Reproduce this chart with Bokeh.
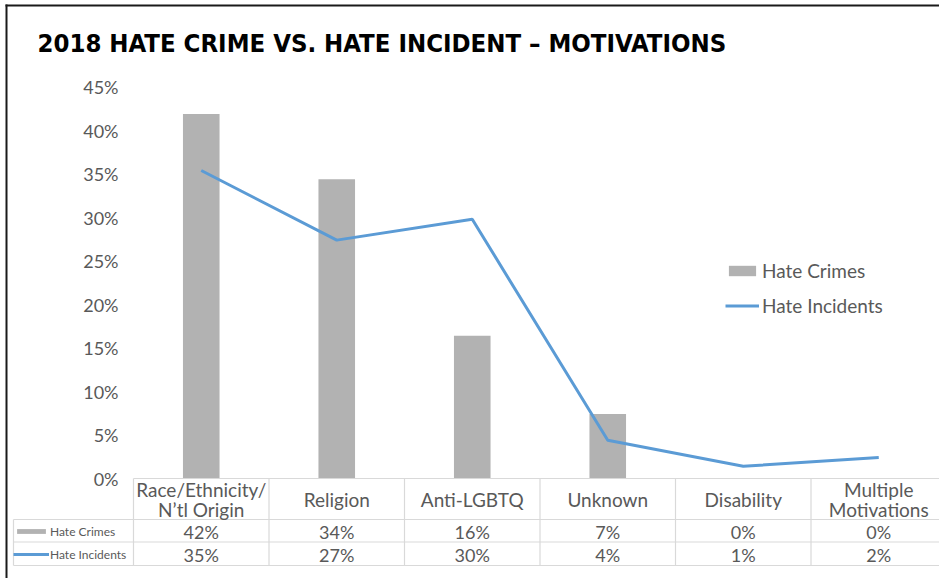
from bokeh.plotting import figure
from bokeh.models import (Range1d, LinearAxis, FixedTicker, PrintfTickFormatter, Label,
                          Legend, LegendItem, ColumnDataSource)
from bokeh.core.properties import value
from bokeh.embed import file_html
from bokeh.resources import INLINE

# ---------------- data ----------------
categories = ["Race/Ethnicity/\nN\u2019tl Origin", "Religion", "Anti-LGBTQ", "Unknown",
              "Disability", "Multiple\nMotivations"]
hate_crimes = [41.9, 34.4, 16.4, 7.4, 0.0, 0.0]
hate_incidents = [35.4, 27.4, 29.8, 4.4, 1.4, 2.4]
y_ticks = [0, 5, 10, 15, 20, 25, 30, 35, 40, 45]
crime_labels = ["42%", "34%", "16%", "7%", "0%", "0%"]
incident_labels = ["35%", "27%", "30%", "4%", "1%", "2%"]
title_text = "2018 HATE CRIME VS. HATE INCIDENT \u2013 MOTIVATIONS"

# ---------------- layout helpers (pixel -> data) ----------------
W, H = 939, 578
X0, COLW = 133.0, 135.5
Y0, YS = 478.0, 8.7


def xd(px):
    return (px - X0) / COLW


def yd(py):
    return (Y0 - py) / YS


FONT = "Lato"
GREY_TXT = "#595959"
GRID = "#d9d9d9"
BAR = "#b2b2b2"
BLUE = "#5b9bd5"

p = figure(width=W, height=H, x_range=Range1d(xd(0), xd(W)), y_range=Range1d(yd(H), yd(0)),
           output_backend="svg", toolbar_location=None, x_axis_location=None,
           y_axis_location=None, min_border=0, outline_line_color=None,
           background_fill_color="white", border_fill_color="white")
p.grid.visible = False

xs = [i + 0.5 for i in range(len(categories))]
src = ColumnDataSource(dict(x=xs, crimes=hate_crimes, incidents=hate_incidents))

bars = p.vbar(x="x", top="crimes", bottom=0, width=0.27, source=src,
              fill_color=BAR, line_color=None)
line = p.line(x="x", y="incidents", source=src, line_color=BLUE, line_width=3)

# y axis drawn at the start of the first column
yaxis = LinearAxis(fixed_location=0, ticker=FixedTicker(ticks=y_ticks),
                   formatter=PrintfTickFormatter(format="%d%%"),
                   axis_line_color=None, major_tick_line_color=None,
                   minor_tick_line_color=None, major_label_text_font=FONT,
                   major_label_text_font_size="18px", major_label_text_color=GREY_TXT,
                   major_label_standoff=9)
p.add_layout(yaxis, "left")

# ---------------- data table under the chart ----------------
n = len(categories)
x_right = xd(W + 20)
row_tops = [yd(519), yd(541.5), yd(565)]
# horizontal lines
p.segment(x0=[0], y0=[0], x1=[x_right], y1=[0], line_color=GRID, line_width=1.2)
p.segment(x0=[xd(13)] * 3, y0=row_tops, x1=[x_right] * 3, y1=row_tops,
          line_color=GRID, line_width=1.2)
# vertical lines
p.segment(x0=list(range(n + 1)), y0=[0] * (n + 1), x1=list(range(n + 1)),
          y1=[yd(565)] * (n + 1), line_color=GRID, line_width=1.2)
p.segment(x0=[xd(13)], y0=[yd(519)], x1=[xd(13)], y1=[yd(565)], line_color=GRID, line_width=1.2)

p.text(x=xs, y=[yd(499)] * n, text=categories, text_align="center", text_baseline="middle",
       text_font=value(FONT), text_font_size="19px", text_color=GREY_TXT, text_line_height=0.84)
p.text(x=xs, y=[yd(531)] * n, text=crime_labels, text_align="center", text_baseline="middle",
       text_font=value(FONT), text_font_size="18px", text_color=GREY_TXT)
p.text(x=xs, y=[yd(554)] * n, text=incident_labels, text_align="center", text_baseline="middle",
       text_font=value(FONT), text_font_size="18px", text_color=GREY_TXT)

# ---------------- legends ----------------
leg = Legend(items=[LegendItem(label="Hate Crimes", renderers=[bars]),
                    LegendItem(label="Hate Incidents", renderers=[line])],
             location=(725, H - 317), orientation="vertical", padding=0, margin=0,
             spacing=11, glyph_width=34, glyph_height=13, label_height=24,
             label_standoff=3, label_text_font=FONT, label_text_font_size="19px",
             label_text_color=GREY_TXT, border_line_color=None, background_fill_alpha=0)
p.add_layout(leg, "center")

leg2 = Legend(items=[LegendItem(label="Hate Crimes", renderers=[bars]),
                     LegendItem(label="Hate Incidents", renderers=[line])],
              location=(13, H - 562), orientation="vertical", padding=0, margin=0,
              spacing=7, glyph_width=36, glyph_height=6, label_height=16,
              label_standoff=1, label_text_font=FONT, label_text_font_size="12px",
              label_text_color=GREY_TXT, border_line_color=None, background_fill_alpha=0)
p.add_layout(leg2, "center")

# ---------------- title and frame border ----------------
p.add_layout(Label(x=xd(37), y=yd(42), text=title_text,
                   text_font="'DejaVu Sans Condensed', 'Roboto Condensed', 'Open Sans Condensed', Roboto",
                   text_font_size="25.5px", text_font_style="bold", text_color="black",
                   text_baseline="alphabetic"))
p.segment(x0=[xd(5)], y0=[yd(5)], x1=[xd(W + 5)], y1=[yd(5)], line_color="#1a1a1a", line_width=2)
p.segment(x0=[xd(6)], y0=[yd(4)], x1=[xd(6)], y1=[yd(H + 5)], line_color="#1a1a1a", line_width=2)

open("out.html", "w").write(file_html(p, INLINE))
